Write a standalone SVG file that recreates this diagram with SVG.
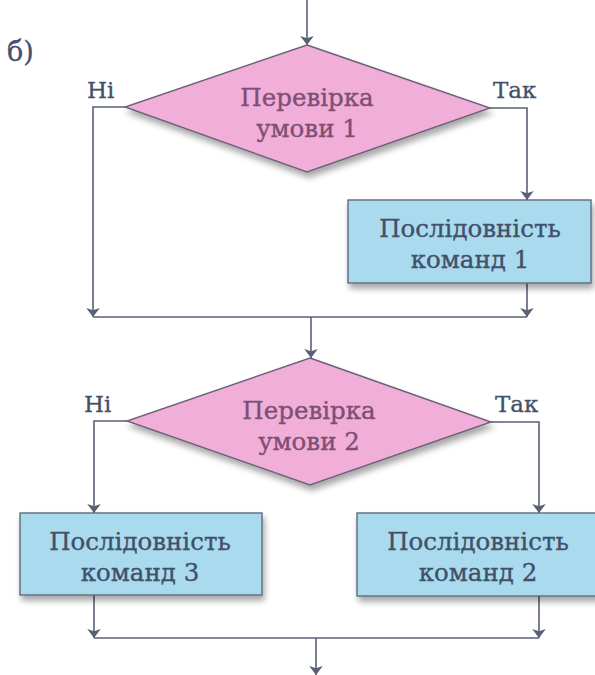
<svg xmlns="http://www.w3.org/2000/svg" width="595" height="675" viewBox="0 0 595 675">
<defs>
<marker id="arr" viewBox="0 0 8 12" refX="8" refY="6" markerWidth="9" markerHeight="14" markerUnits="userSpaceOnUse" orient="auto">
<path d="M0,0 L8,6 L0,12 L2,6 Z" fill="#5a6075"/>
</marker>
<filter id="sh" x="-10%" y="-10%" width="125%" height="135%">
<feGaussianBlur in="SourceAlpha" stdDeviation="3"/>
<feOffset dx="2" dy="5" result="b"/>
<feComponentTransfer><feFuncA type="linear" slope="0.35"/></feComponentTransfer>
<feMerge><feMergeNode/><feMergeNode in="SourceGraphic"/></feMerge>
</filter>
<style>
.ln{fill:none;stroke:#5a6075;stroke-width:1.6}
.dia{fill:#f0aed8;stroke:#6a6278;stroke-width:1.4}
.box{fill:#aadaee;stroke:#5d6a7c;stroke-width:1.4}
.t{font-family:"DejaVu Serif","Liberation Serif",serif;font-size:24.5px;text-anchor:middle;stroke-width:0.35}
.td{fill:#7e4e74;stroke:#7e4e74}
.tb{fill:#42506a;stroke:#42506a}
.lbl{font-family:"DejaVu Serif","Liberation Serif",serif;font-size:23px;fill:#44506a;stroke:#44506a;stroke-width:0.3}
</style>
</defs>
<rect width="595" height="675" fill="#ffffff"/>
<text class="lbl" x="7" y="61" style="font-size:27px">б)</text>
<g id="connectors">
<path class="ln" d="M307,0 V45" marker-end="url(#arr)"/>
<path class="ln" d="M125,107 H93 V317" marker-end="url(#arr)"/>
<path class="ln" d="M490,108 H527 V200" marker-end="url(#arr)"/>
<path class="ln" d="M527,283 V317" marker-end="url(#arr)"/>
<path class="ln" d="M93,317 H527"/>
<path class="ln" d="M311,317 V358" marker-end="url(#arr)"/>
<path class="ln" d="M127,421 H94 V513" marker-end="url(#arr)"/>
<path class="ln" d="M491,422 H539 V513" marker-end="url(#arr)"/>
<path class="ln" d="M94,595 V638" marker-end="url(#arr)"/>
<path class="ln" d="M539,596 V638" marker-end="url(#arr)"/>
<path class="ln" d="M94,638 H539"/>
<path class="ln" d="M316,638 V675" marker-end="url(#arr)"/>
</g>
<g id="cond1">
<polygon class="dia" filter="url(#sh)" points="307,45 490,108 307,172 125,107"/>
<text class="t td" x="307" y="106">Перевірка</text>
<text class="t td" x="307" y="137">умови 1</text>
<text class="lbl" x="87" y="98">Ні</text>
<text class="lbl" x="493" y="98">Так</text>
</g>
<g id="seq1">
<rect class="box" filter="url(#sh)" x="348" y="200" width="243" height="83"/>
<text class="t tb" x="470" y="237">Послідовність</text>
<text class="t tb" x="470" y="268">команд 1</text>
</g>
<g id="cond2">
<polygon class="dia" filter="url(#sh)" points="310,358 491,422 310,485 127,421"/>
<text class="t td" x="309" y="419">Перевірка</text>
<text class="t td" x="309" y="450">умови 2</text>
<text class="lbl" x="84" y="412">Ні</text>
<text class="lbl" x="495" y="412">Так</text>
</g>
<g id="seq3">
<rect class="box" filter="url(#sh)" x="20" y="513" width="242" height="82"/>
<text class="t tb" x="140" y="550">Послідовність</text>
<text class="t tb" x="140" y="581">команд 3</text>
</g>
<g id="seq2">
<rect class="box" filter="url(#sh)" x="357" y="513" width="245" height="83"/>
<text class="t tb" x="478" y="550">Послідовність</text>
<text class="t tb" x="478" y="581">команд 2</text>
</g>
</svg>
